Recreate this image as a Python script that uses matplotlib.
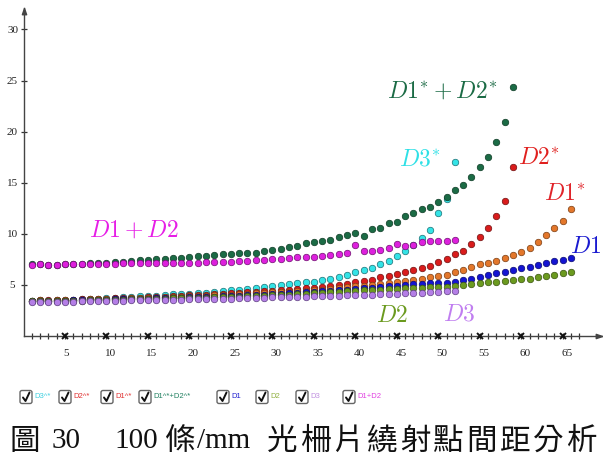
import matplotlib
matplotlib.use("Agg")
import matplotlib.pyplot as plt
from matplotlib.patches import FancyBboxPatch
from matplotlib.path import Path
from matplotlib.transforms import offset_copy

plt.rcParams['mathtext.fontset'] = 'cm'

# ---- series values (spot spacing vs. index) ----
d3_star = [3.45, 3.5, 3.45, 3.5, 3.5, 3.55, 3.6, 3.65, 3.65, 3.7,
           3.75, 3.8, 3.85, 3.9, 3.9, 3.95, 4.0, 4.1, 4.1, 4.15,
           4.2, 4.25, 4.35, 4.4, 4.5, 4.55, 4.6, 4.7, 4.8, 4.9,
           5.0, 5.1, 5.2, 5.3, 5.3, 5.5, 5.6, 5.8, 6.0, 6.3,
           6.5, 6.7, 7.0, 7.3, 7.8, 8.3, 8.9, 9.6, 10.4, 12.0, 13.4, 17.0]
d2_star = [3.45, 3.5, 3.5, 3.5, 3.55, 3.55, 3.6, 3.6, 3.65, 3.65,
           3.7, 3.7, 3.75, 3.75, 3.8, 3.85, 3.85, 3.9, 3.95, 4.0,
           4.0, 4.05, 4.1, 4.15, 4.2, 4.25, 4.3, 4.35, 4.4, 4.45,
           4.5, 4.55, 4.6, 4.65, 4.7, 4.75, 4.9, 5.0, 5.1, 5.25,
           5.35, 5.5, 5.75, 5.85, 6.05, 6.25, 6.5, 6.7, 6.85, 7.25,
           7.55, 8.05, 8.3, 9.0, 9.7, 10.6, 11.7, 13.2, 16.5]
d1_star = [3.45, 3.5, 3.45, 3.5, 3.5, 3.55, 3.55, 3.6, 3.6, 3.6,
           3.65, 3.65, 3.7, 3.7, 3.75, 3.75, 3.8, 3.8, 3.85, 3.9,
           3.9, 3.95, 4.0, 4.0, 4.05, 4.1, 4.15, 4.2, 4.25, 4.3,
           4.3, 4.35, 4.4, 4.45, 4.5, 4.55, 4.6, 4.7, 4.75, 4.85,
           4.9, 5.0, 5.1, 5.2, 5.3, 5.4, 5.5, 5.6, 5.75, 5.85,
           6.0, 6.25, 6.5, 6.75, 7.0, 7.1, 7.35, 7.6, 7.9, 8.2,
           8.65, 9.2, 9.85, 10.6, 11.3, 12.4]
d12_star = [7.0, 7.05, 6.95, 6.95, 7.0, 7.05, 7.05, 7.1, 7.1, 7.15,
            7.2, 7.25, 7.35, 7.4, 7.45, 7.5, 7.55, 7.6, 7.65, 7.7,
            7.8, 7.85, 7.95, 8.0, 8.05, 8.1, 8.1, 8.15, 8.3, 8.45,
            8.55, 8.7, 8.85, 9.1, 9.2, 9.3, 9.4, 9.7, 9.9, 10.1,
            9.75, 10.5, 10.6, 11.1, 11.2, 11.7, 12.0, 12.4, 12.6, 13.1,
            13.6, 14.3, 14.8, 15.6, 16.5, 17.5, 19.0, 20.9, 24.4]
d1 = [3.45, 3.45, 3.4, 3.45, 3.45, 3.5, 3.5, 3.5, 3.55, 3.55,
      3.6, 3.6, 3.6, 3.65, 3.65, 3.7, 3.7, 3.75, 3.75, 3.8,
      3.8, 3.85, 3.85, 3.9, 3.9, 3.95, 4.0, 4.0, 4.05, 4.1,
      4.15, 4.2, 4.25, 4.3, 4.35, 4.4, 4.45, 4.5, 4.5, 4.6,
      4.65, 4.7, 4.8, 4.85, 4.9, 5.0, 5.05, 5.1, 5.15, 5.2,
      5.2, 5.3, 5.5, 5.55, 5.8, 6.0, 6.2, 6.3, 6.5, 6.65,
      6.8, 6.95, 7.1, 7.3, 7.45, 7.65]
d2 = [3.4, 3.45, 3.4, 3.4, 3.45, 3.45, 3.45, 3.5, 3.5, 3.5,
      3.55, 3.55, 3.6, 3.6, 3.6, 3.65, 3.65, 3.7, 3.7, 3.7,
      3.75, 3.75, 3.8, 3.8, 3.85, 3.85, 3.9, 3.9, 3.95, 4.0,
      4.0, 4.05, 4.1, 4.15, 4.2, 4.25, 4.3, 4.35, 4.4, 4.45,
      4.5, 4.5, 4.55, 4.6, 4.6, 4.65, 4.7, 4.7, 4.75, 4.75,
      4.8, 4.85, 5.0, 5.05, 5.15, 5.25, 5.3, 5.4, 5.45, 5.55,
      5.6, 5.75, 5.85, 5.95, 6.15, 6.3]
d3 = [3.35, 3.35, 3.3, 3.35, 3.35, 3.35, 3.4, 3.4, 3.4, 3.45,
      3.45, 3.45, 3.5, 3.5, 3.5, 3.5, 3.55, 3.55, 3.55, 3.6,
      3.6, 3.6, 3.65, 3.65, 3.65, 3.7, 3.7, 3.75, 3.75, 3.8,
      3.8, 3.8, 3.85, 3.85, 3.9, 3.9, 3.95, 3.95, 4.0, 4.0,
      4.05, 4.05, 4.1, 4.15, 4.15, 4.2, 4.25, 4.25, 4.3, 4.35, 4.4, 4.45]
d12 = [6.95, 7.0, 6.9, 6.9, 7.0, 7.0, 7.0, 7.05, 7.05, 7.05,
       7.05, 7.1, 7.1, 7.1, 7.1, 7.15, 7.15, 7.15, 7.15, 7.15,
       7.17, 7.2, 7.2, 7.25, 7.27, 7.3, 7.35, 7.4, 7.45, 7.5,
       7.55, 7.6, 7.7, 7.7, 7.75, 7.8, 7.9, 8.0, 8.1, 8.9,
       8.3, 8.35, 8.45, 8.6, 9.0, 8.85, 8.9, 9.2, 9.3, 9.3, 9.3, 9.4]

# (values, fill, edge) in drawing order
series = [
    (d3_star, '#33e3e6', '#1a6f73'),
    (d2_star, '#d91c1c', '#6e1010'),
    (d1_star, '#e3772b', '#7a3d12'),
    (d12_star, '#1b6b45', '#0e3a25'),
    (d1, '#1414d2', '#0a0a70'),
    (d2, '#6b9a1f', '#3a5410'),
    (d3, '#b47ee6', '#5e3f80'),
    (d12, '#dd20dd', '#701070'),
]

# curve labels: (text, x, y, colour)
curve_labels = [
    (r'$D1+D2$', 13.3, 10.37, '#e61ee6'),
    (r'$D1^{*}+D2^{*}$', 50.45, 23.97, '#1b6b45'),
    (r'$D3^{*}$', 47.8, 17.42, '#2fe0e6'),
    (r'$D2^{*}$', 62.15, 17.5, '#e0201e'),
    (r'$D1^{*}$', 65.28, 14.0, '#e0242a'),
    (r'$D1$', 67.8, 8.8, '#1a1ad0'),
    (r'$D2$', 44.4, 2.05, '#6b9a1f'),
    (r'$D3$', 52.5, 2.25, '#c07ef0'),
]

x_major = [5, 10, 15, 20, 25, 30, 35, 40, 45, 50, 55, 60, 65]
y_major = [5, 10, 15, 20, 25, 30]

legend_items = [
    ('D3^*', '#3fd0e0'), ('D2^*', '#e03030'), ('D1^*', '#e03030'),
    ('D1^*+D2^*', '#208060'), ('D1', '#2020d0'), ('D2', '#90b040'),
    ('D3', '#c090e0'), ('D1+D2', '#e040e0'),
]
legend_box_x = [20, 59, 101, 139, 217, 256, 296, 343]

W, H = 603, 457
fig = plt.figure(figsize=(W / 100, H / 100), dpi=100)
fig.patch.set_facecolor('white')

x0_px, y0_px = 23.5, 336.0
xr_px, yt_px = 601.7, 8.0
ax = fig.add_axes([x0_px / W, (H - y0_px) / H, (xr_px - x0_px) / W, (y0_px - yt_px) / H])
ax.set_xlim(0, 69.7)
ax.set_ylim(0, 32.1)
ax.set_facecolor('none')
for s in ('top', 'right'):
    ax.spines[s].set_visible(False)
for s in ('left', 'bottom'):
    ax.spines[s].set_color('#444444')
    ax.spines[s].set_linewidth(1.0)

ax.set_xticks(x_major)
ax.set_xticks(range(1, 68), minor=True)
ax.set_yticks(y_major)
ax.tick_params(axis='both', which='both', direction='inout', length=5, width=0.9,
               color='#333333', labelbottom=False, labelleft=False)

# tick labels, GeoGebra style
tx = offset_copy(ax.get_xaxis_transform(), fig=fig, x=-1.5, y=-17, units='dots')
for v in x_major:
    ax.text(v, 0, str(v), transform=tx, ha='left', va='center',
            fontsize=8, family='Liberation Serif', color='#222222')
ty = offset_copy(ax.get_yaxis_transform(), fig=fig, x=-11, y=-1, units='dots')
for v in y_major:
    ax.text(0, v, str(v), transform=ty, ha='center', va='center',
            fontsize=8, family='Liberation Serif', color='#222222')

# cross marks at the labelled x positions
ax.plot(x_major, [0] * len(x_major), linestyle='none', marker='x', ms=4.5,
        mew=1.4, color='#111111', clip_on=False, zorder=5)

# axis arrows
arrow_r = Path([(0, 0), (-2.2, 0.75), (-2.2, -0.75), (0, 0)],
               [Path.MOVETO, Path.LINETO, Path.LINETO, Path.CLOSEPOLY])
arrow_u = Path([(0, 0), (0.75, -2.2), (-0.75, -2.2), (0, 0)],
               [Path.MOVETO, Path.LINETO, Path.LINETO, Path.CLOSEPOLY])
ax.plot([1], [0], marker=arrow_r, ms=9, color='#444444', transform=ax.transAxes, clip_on=False)
ax.plot([0], [1], marker=arrow_u, ms=9, color='#444444', transform=ax.transAxes, clip_on=False)

for z, (vals, fc, ec) in enumerate(series):
    xs = list(range(1, len(vals) + 1))
    ax.scatter(xs, vals, s=22, c=fc, edgecolors=ec, linewidths=0.5, zorder=10 + z)

for txt, lx, ly, col in curve_labels:
    ax.text(lx, ly, txt, color=col, fontsize=17, ha='center', va='center', zorder=30)

# overlay in pixel coordinates for the checkbox row and caption
ov = fig.add_axes([0, 0, 1, 1])
ov.set_xlim(0, W)
ov.set_ylim(H, 0)
ov.axis('off')
ov.patch.set_alpha(0)

for (label, col), bx in zip(legend_items, legend_box_x):
    box = FancyBboxPatch((bx, 390.5), 12, 13, boxstyle='round,pad=0,rounding_size=2',
                         fc='white', ec='#666666', lw=1.0)
    ov.add_patch(box)
    ov.plot([bx + 3, bx + 5.5, bx + 9.5], [397.5, 401, 392.5], color='#111111', lw=1.4,
            solid_capstyle='round')
    ov.text(bx + 14, 397, label, color=col, fontsize=5.5, family='Liberation Sans',
            ha='left', va='center')

# caption
cap_y = 441
cjk = 'Noto Sans CJK TC'
ov.text(9, cap_y, '圖', fontsize=22, family=cjk, ha='left', va='center', color='#111111')
ov.text(52, cap_y, '30', fontsize=21, family='Liberation Serif', ha='left', va='center', color='#111111')
ov.text(114, cap_y, '100', fontsize=21, family='Liberation Serif', ha='left', va='center', color='#111111')
ov.text(165, cap_y, '條', fontsize=22, family=cjk, ha='left', va='center', color='#111111')
ov.text(197, cap_y, '/mm', fontsize=21, family='Liberation Serif', ha='left', va='center', color='#111111')
for i, ch in enumerate('光柵片繞射點間距分析'):
    ov.text(282 + i * 33.3, cap_y, ch, fontsize=22, family=cjk, ha='center', va='center',
            color='#111111')

fig.savefig('out.png', dpi=100, facecolor='white')
